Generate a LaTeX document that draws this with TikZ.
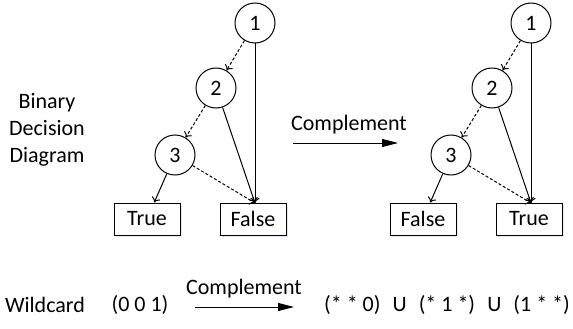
\documentclass[tikz,border=0pt]{standalone}
\usepackage{fontspec}
\setmainfont{Carlito}
\usetikzlibrary{arrows.meta,shadows}
\begin{document}
\begin{tikzpicture}[x=1pt,y=-1pt,
	font=\fontsize{22}{27}\selectfont,
	var/.style={circle,draw,line width=1pt,minimum size=40pt,inner sep=0pt},
	leaf/.style={draw,fill=white,line width=1pt,minimum width=66pt,minimum height=32pt,inner sep=0pt,
		drop shadow={shadow xshift=1.5pt,shadow yshift=-2pt,opacity=0.3,fill=blue!35}},
	hi/.style={line width=1pt,-{To[length=5pt,width=9pt]}},
	lo/.style={hi,dash pattern=on 3pt off 2pt},
	big/.style={line width=1pt,-{Triangle[length=16pt,width=8pt]}}]

	\useasboundingbox (0,0) rectangle (573,329);

	\def \shift{276}

	% LEFT BDD
	\node[var]  (l1) at (255,23)  {1};
	\node[var]  (l2) at (216,88)  {2};
	\node[var]  (l3) at (175,155) {3};
	\node[leaf] (lt) at (147,219) {True};
	\node[leaf] (lf) at (253,219) {False};
	\coordinate (lfin) at (255,203);

	\draw[lo] (l1) -- (l2);
	\draw[lo] (l2) -- (l3);
	\draw[hi] (l1) -- (lfin);
	\draw[hi] (l2) -- (lfin);
	\draw[lo] (l3) -- (lfin);
	\draw[hi] (l3) -- (lt);

	\node[align=center] (bdd) at (47,130) {Binary\\Decision\\Diagram};

	% complement arrow between the two BDDs
	\coordinate (ca) at (293,143);
	\coordinate (cb) at (398,143);
	\draw[big] (ca) -- (cb);
	\node (ct) at (349,125) {Complement};

	% RIGHT BDD
	\node[var]  (r1) at (255+\shift,23)  {1};
	\node[var]  (r2) at (216+\shift,88)  {2};
	\node[var]  (r3) at (175+\shift,155) {3};
	\node[leaf] (rf) at (147+\shift,219) {False};
	\node[leaf] (rt) at (253+\shift,219) {True};
	\coordinate (rtin) at (255+\shift,203);

	\draw[lo] (r1) -- (r2);
	\draw[lo] (r2) -- (r3);
	\draw[hi] (r1) -- (rtin);
	\draw[hi] (r2) -- (rtin);
	\draw[lo] (r3) -- (rtin);
	\draw[hi] (r3) -- (rf);

	% wildcard row
	\node (wc) at (45,305) {Wildcard};
	\node (w1) at (140,305) {(0 0 1)};
	\coordinate (wa) at (195,307);
	\coordinate (wb) at (294,307);
	\draw[big] (wa) -- (wb);
	\node (wt) at (244,289) {Complement};
	\node (w2) at (447,305) {(* * 0)\hspace{0.55em}U\hspace{0.55em}(* 1 *)\hspace{0.55em}U\hspace{0.55em}(1 * *)};

\end{tikzpicture}
\end{document}
